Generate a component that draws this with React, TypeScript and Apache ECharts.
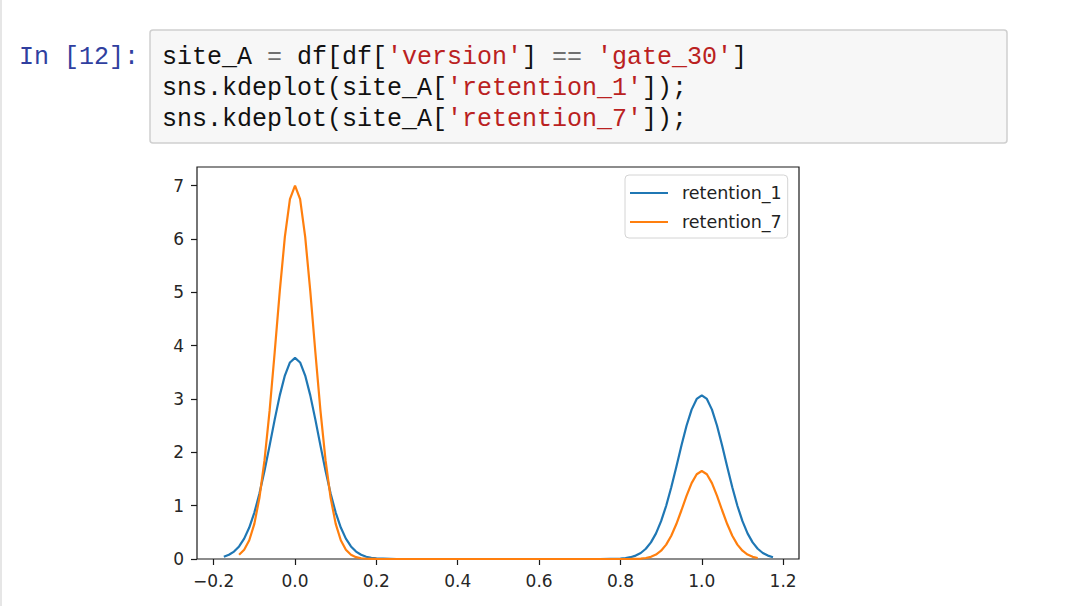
import React, { useEffect, useRef } from "react";
import * as echarts from "echarts";

// ---- data ----
const seriesNames = ["retention_1", "retention_7"];

const blueX = [
  -0.175, -0.1625, -0.15, -0.1375, -0.125, -0.1125, -0.1, -0.0875, -0.075, -0.0625, -0.05, -0.0375, -0.025, -0.0125,
  0, 0.0125, 0.025, 0.0375, 0.05, 0.0625, 0.075, 0.0875, 0.1, 0.1125, 0.125, 0.1375, 0.15, 0.1625, 0.175, 0.1875, 0.2,
  0.25, 0.5, 0.75,
  0.8, 0.8125, 0.825, 0.8375, 0.85, 0.8625, 0.875, 0.8875, 0.9, 0.9125, 0.925, 0.9375, 0.95, 0.9625, 0.975, 0.9875,
  1.0, 1.0125, 1.025, 1.0375, 1.05, 1.0625, 1.075, 1.0875, 1.1, 1.1125, 1.125, 1.1375, 1.15, 1.1625, 1.175,
];
const blueY = [
  0.042, 0.079, 0.139, 0.236, 0.382, 0.59, 0.87, 1.227, 1.653, 2.126, 2.613, 3.068, 3.44, 3.685,
  3.77, 3.685, 3.44, 3.068, 2.613, 2.126, 1.653, 1.227, 0.87, 0.59, 0.382, 0.236, 0.139, 0.079, 0.042, 0.022, 0.011,
  0, 0, 0,
  0.009, 0.018, 0.034, 0.064, 0.113, 0.192, 0.311, 0.48, 0.709, 0.999, 1.346, 1.731, 2.128, 2.498, 2.801, 3.001,
  3.07, 3.001, 2.801, 2.498, 2.128, 1.731, 1.346, 0.999, 0.709, 0.48, 0.311, 0.192, 0.113, 0.064, 0.034,
];

const orangeX = [
  -0.1375, -0.125, -0.1125, -0.1, -0.0875, -0.075, -0.0625, -0.05, -0.0375, -0.025, -0.0125,
  0, 0.0125, 0.025, 0.0375, 0.05, 0.0625, 0.075, 0.0875, 0.1, 0.1125, 0.125, 0.1375, 0.15, 0.1625, 0.175, 0.1875, 0.2,
  0.25, 0.5, 0.75,
  0.8, 0.8125, 0.825, 0.8375, 0.85, 0.8625, 0.875, 0.8875, 0.9, 0.9125, 0.925, 0.9375, 0.95, 0.9625, 0.975, 0.9875,
  1.0, 1.0125, 1.025, 1.0375, 1.05, 1.0625, 1.075, 1.0875, 1.1, 1.1125, 1.125, 1.1375,
];
const orangeY = [
  0.08, 0.175, 0.351, 0.659, 1.147, 1.853, 2.781, 3.877, 5.021, 6.039, 6.747,
  7.0, 6.747, 6.039, 5.021, 3.877, 2.781, 1.853, 1.147, 0.659, 0.351, 0.175, 0.08, 0.034, 0.014, 0.005, 0.002, 0.001,
  0, 0, 0,
  0, 0, 0.001, 0.003, 0.008, 0.019, 0.041, 0.083, 0.155, 0.27, 0.437, 0.656, 0.914, 1.184, 1.423, 1.59,
  1.65, 1.59, 1.423, 1.184, 0.914, 0.656, 0.437, 0.27, 0.155, 0.083, 0.041, 0.019,
];

const xTicks = [-0.2, 0, 0.2, 0.4, 0.6, 0.8, 1.0, 1.2];
const yTicks = [0, 1, 2, 3, 4, 5, 6, 7];

const promptText = "In [12]:";
// code lines as [text, kind] tokens: k = plain, o = operator, s = string
const codeLines: [string, string][][] = [
  [["site_A ", "k"], ["=", "o"], [" df[df[", "k"], ["'version'", "s"], ["] ", "k"], ["==", "o"], [" ", "k"], ["'gate_30'", "s"], ["]", "k"]],
  [["sns.kdeplot(site_A[", "k"], ["'retention_1'", "s"], ["]);", "k"]],
  [["sns.kdeplot(site_A[", "k"], ["'retention_7'", "s"], ["]);", "k"]],
];

const tokenColors: Record<string, string> = { k: "#111111", o: "#707070", s: "#BA2121" };

export default function App() {
  const ref = useRef<HTMLDivElement>(null);

  useEffect(() => {
    if (!ref.current) return;
    const chart = echarts.init(ref.current, undefined, { renderer: "svg" });

    const mono = "'Liberation Mono', 'DejaVu Sans Mono', monospace";
    const charW = 15;
    const codeX0 = 162;
    const lineYs = [57, 88, 119];

    const graphics: any[] = [
      { type: "line", shape: { x1: 1, y1: 0, x2: 1, y2: 606 }, style: { stroke: "#e6e6e6", lineWidth: 2 }, silent: true },
      {
        type: "rect",
        shape: { x: 150, y: 30, width: 857, height: 113, r: 3 },
        style: { fill: "#f7f7f7", stroke: "#cfcfcf", lineWidth: 1.5 },
        silent: true,
      },
      {
        type: "text",
        x: 19,
        y: lineYs[0],
        style: { text: promptText, font: `25px ${mono}`, fill: "#303F9F", verticalAlign: "middle" },
        silent: true,
      },
    ];
    codeLines.forEach((tokens, li) => {
      let col = 0;
      tokens.forEach(([t, kind]) => {
        if (t.trim().length > 0) {
          const lead = t.length - t.trimStart().length;
          graphics.push({
            type: "text",
            x: codeX0 + (col + lead) * charW,
            y: lineYs[li],
            style: { text: t.trim(), font: `25px ${mono}`, fill: tokenColors[kind], verticalAlign: "middle" },
            silent: true,
          });
        }
        col += t.length;
      });
    });

    const fmtX = (v: number) => {
      const s = Math.abs(v) < 1e-9 ? "0.0" : v.toFixed(1);
      return s.replace("-", "\u2212");
    };

    chart.setOption({
      animation: false,
      backgroundColor: "#ffffff",
      textStyle: { fontFamily: "'DejaVu Sans', sans-serif" },
      grid: {
        left: 197,
        right: 281,
        top: 167,
        bottom: 47,
        show: true,
        borderColor: "#1a1a1a",
        borderWidth: 1.2,
        backgroundColor: "#ffffff",
      },
      legend: {
        data: seriesNames,
        orient: "vertical",
        left: 625,
        top: 175,
        padding: [9, 6, 7, 5],
        itemGap: 11,
        itemWidth: 38,
        itemHeight: 2,
        icon: "rect",
        backgroundColor: "rgba(255,255,255,0.8)",
        borderColor: "#d4d4d4",
        borderWidth: 1,
        borderRadius: 4,
        textStyle: {
          fontFamily: "'DejaVu Sans', sans-serif",
          fontSize: 17.5,
          color: "#222222",
          lineHeight: 18,
          padding: [0, 0, 0, 9],
        },
      },
      xAxis: {
        type: "value",
        min: -0.241,
        max: 1.239,
        splitLine: { show: false },
        axisLine: { show: false, onZero: false },
        axisTick: { show: true, length: 6, lineStyle: { color: "#1a1a1a", width: 1.2 }, customValues: xTicks },
        axisLabel: {
          customValues: xTicks,
          formatter: fmtX,
          fontSize: 17,
          color: "#262626",
          margin: 13,
          fontFamily: "'DejaVu Sans', sans-serif",
        },
      },
      yAxis: {
        type: "value",
        min: 0,
        max: 7.35,
        splitLine: { show: false },
        axisLine: { show: false, onZero: false },
        axisTick: { show: true, length: 6, lineStyle: { color: "#1a1a1a", width: 1.2 }, customValues: yTicks },
        axisLabel: {
          customValues: yTicks,
          formatter: (v: number) => String(Math.round(v)),
          fontSize: 17,
          color: "#262626",
          margin: 13,
          fontFamily: "'DejaVu Sans', sans-serif",
        },
      },
      series: [
        {
          name: seriesNames[0],
          type: "line",
          data: blueX.map((x, i) => [x, blueY[i]]),
          showSymbol: false,
          symbol: "none",
          clip: false,
          color: "#1f77b4",
          lineStyle: { width: 2.2, color: "#1f77b4" },
          z: 3,
        },
        {
          name: seriesNames[1],
          type: "line",
          data: orangeX.map((x, i) => [x, orangeY[i]]),
          showSymbol: false,
          symbol: "none",
          clip: false,
          color: "#ff7f0e",
          lineStyle: { width: 2.2, color: "#ff7f0e" },
          z: 4,
        },
      ],
      graphic: graphics,
    });

    return () => chart.dispose();
  }, []);

  return (
    <div
      ref={ref}
      style={{ position: "absolute", left: 0, top: 0, width: 1080, height: 606, background: "#ffffff" }}
    />
  );
}
